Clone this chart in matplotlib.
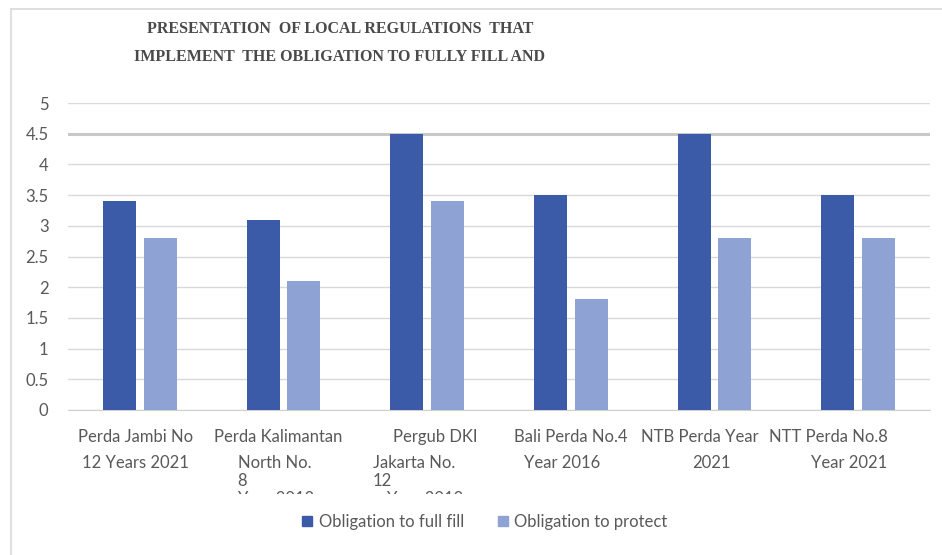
import matplotlib.pyplot as plt
import matplotlib.transforms as mtransforms
from matplotlib.lines import Line2D
from matplotlib.patches import Patch
import numpy as np

# data
label_lines = [
    ['Perda Jambi No', '12 Years 2021'],
    ['Perda Kalimantan', 'North No.', '8', 'Year 2018'],
    ['Pergub DKI', 'Jakarta No.', '12', 'Year 2019'],
    ['Bali Perda No.4', 'Year 2016'],
    ['NTB Perda Year', '2021'],
    ['NTT Perda No.8', 'Year 2021'],
]
full_fill = [3.4, 3.1, 4.5, 3.5, 4.5, 3.5]
protect = [2.8, 2.1, 3.4, 1.8, 2.8, 2.8]
series_names = ['Obligation to full fill', 'Obligation to protect']
yticks = [0, 0.5, 1, 1.5, 2, 2.5, 3, 3.5, 4, 4.5, 5]

# where each wrapped label line sits (offset from category, alignment)
label_pos = [
    [(-0.03, 'center'), (-0.03, 'center')],
    [(-0.04, 'center'), (-0.32, 'left'), (-0.32, 'left'), (-0.32, 'left')],
    [(0.055, 'center'), (-0.38, 'left'), (-0.38, 'left'), (-0.28, 'left')],
    [(0.0, 'center'), (-0.06, 'center')],
    [(-0.1, 'center'), (-0.02, 'center')],
    [(-0.21, 'center'), (-0.06, 'center')],
]

dark = '#3b5ba9'
light = '#8fa2d4'
txt = '#595959'
fsize = 12

W, H = 942, 555
fig = plt.figure(figsize=(W / 100, H / 100), dpi=100)
ax = fig.add_axes([68 / W, (H - 410) / H, (930 - 68) / W, (410 - 103) / H])

x = np.arange(len(full_fill))
width = 0.23
ax.bar(x - 0.141, full_fill, width, color=dark, zorder=3)
ax.bar(x + 0.141, protect, width, color=light, zorder=3)

ax.set_xlim(-0.5, len(x) - 0.5)
ax.set_ylim(0, 5)
ax.set_yticks(yticks)
ax.set_yticklabels([('%g' % v) for v in yticks], fontsize=fsize, color=txt,
                   family='Lato')
ax.tick_params(axis='y', length=0, pad=14)
ax.set_xticks([])
ax.yaxis.grid(True, color='#d9d9d9', linewidth=1, zorder=0)
ax.get_ygridlines()[9].set_linewidth(2.2)
ax.get_ygridlines()[9].set_color('#c8c8c8')
for s in ['top', 'right', 'left']:
    ax.spines[s].set_visible(False)
ax.spines['bottom'].set_color('#d0d0d0')

# category labels (wrapped like the original, last line cut off)
trans = mtransforms.blended_transform_factory(ax.transData, fig.transFigure)
clip = mtransforms.TransformedBbox(
    mtransforms.Bbox([[0, (H - 494) / H], [1, 1]]), fig.transFigure)
line_y = [437, 463, 481, 499]
for i, lines in enumerate(label_lines):
    for j, s in enumerate(lines):
        dx, ha = label_pos[i][j]
        t = ax.text(i + dx, (H - line_y[j]) / H, s, transform=trans, ha=ha,
                    va='center', fontsize=fsize, color=txt, family='Lato')
        t.set_clip_box(clip)
        t.set_clip_on(True)

# title
fig.text(340 / W, (H - 29) / H, 'PRESENTATION  OF LOCAL REGULATIONS  THAT',
         ha='center', va='center', fontsize=11.5, fontweight='bold',
         family='Liberation Serif', color='#4a4a4a')
fig.text(340 / W, (H - 57) / H, 'IMPLEMENT  THE OBLIGATION TO FULLY FILL AND',
         ha='center', va='center', fontsize=11.5, fontweight='bold',
         family='Liberation Serif', color='#4a4a4a')

# legend
handles = [Patch(color=dark), Patch(color=light)]
fig.legend(handles, series_names, loc='center', bbox_to_anchor=(485 / W, (H - 522) / H),
           ncol=2, frameon=False, prop={'family': 'Lato', 'size': fsize},
           labelcolor=txt, handlelength=0.6, handleheight=0.6, handletextpad=0.4,
           columnspacing=2.0)

# chart border
fig.add_artist(Line2D([11 / W, 11 / W], [0, (H - 9) / H], transform=fig.transFigure,
                      color='#d9d9d9', linewidth=1.2))
fig.add_artist(Line2D([11 / W, 1], [(H - 9) / H, (H - 9) / H], transform=fig.transFigure,
                      color='#d9d9d9', linewidth=1.2))

plt.savefig('out.png', dpi=100)
plt.close()
